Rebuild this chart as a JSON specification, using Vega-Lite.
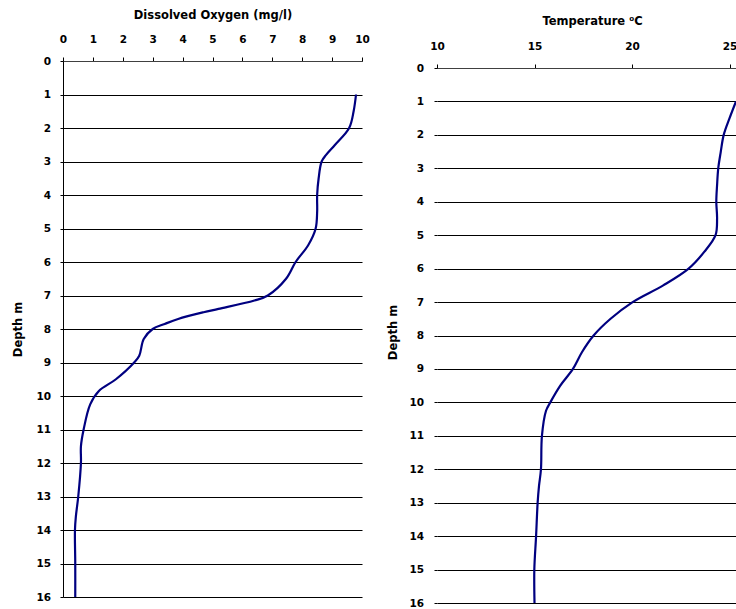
{
  "$schema": "https://vega.github.io/schema/vega-lite/v6.json",
  "padding": {"left": 12, "top": 9, "right": 0, "bottom": 0},
  "background": "white",
  "spacing": 17,
  "config": {
    "view": {"stroke": null},
    "font": "DejaVu Sans",
    "axis": {
      "labelFont": "DejaVu Sans",
      "labelFontWeight": "bold",
      "labelFontSize": 10.5,
      "labelColor": "black",
      "titleFont": "DejaVu Sans",
      "titleFontWeight": "bold",
      "titleFontSize": 11.5,
      "titleColor": "black",
      "tickColor": "black",
      "domainColor": "black",
      "labelOverlap": false
    }
  },
  "datasets": {
    "oxygen": [
      {"depth": 1, "do": 9.8}, {"depth": 1.5, "do": 9.72}, {"depth": 2, "do": 9.57},
      {"depth": 2.5, "do": 9.1}, {"depth": 2.8, "do": 8.8}, {"depth": 3, "do": 8.65},
      {"depth": 3.5, "do": 8.55}, {"depth": 4, "do": 8.5}, {"depth": 4.5, "do": 8.5},
      {"depth": 5, "do": 8.45}, {"depth": 5.5, "do": 8.2}, {"depth": 6, "do": 7.78},
      {"depth": 6.5, "do": 7.46}, {"depth": 7, "do": 6.85}, {"depth": 7.15, "do": 6.4},
      {"depth": 7.4, "do": 5.2}, {"depth": 7.5, "do": 4.7}, {"depth": 7.7, "do": 3.85},
      {"depth": 7.85, "do": 3.4}, {"depth": 8, "do": 3.0}, {"depth": 8.3, "do": 2.7},
      {"depth": 8.8, "do": 2.55}, {"depth": 9, "do": 2.38}, {"depth": 9.5, "do": 1.77},
      {"depth": 9.85, "do": 1.2}, {"depth": 10.25, "do": 0.91}, {"depth": 11, "do": 0.69},
      {"depth": 11.5, "do": 0.6}, {"depth": 12, "do": 0.6}, {"depth": 13, "do": 0.51},
      {"depth": 13.6, "do": 0.43}, {"depth": 14, "do": 0.4}, {"depth": 15, "do": 0.41},
      {"depth": 16, "do": 0.41}
    ],
    "temperature": [
      {"depth": 1, "t": 25.33}, {"depth": 1.5, "t": 25.0}, {"depth": 2, "t": 24.7},
      {"depth": 2.5, "t": 24.55}, {"depth": 3, "t": 24.42}, {"depth": 3.5, "t": 24.36},
      {"depth": 4, "t": 24.32}, {"depth": 4.5, "t": 24.36}, {"depth": 5, "t": 24.28},
      {"depth": 5.5, "t": 23.7}, {"depth": 6, "t": 22.9}, {"depth": 6.5, "t": 21.6},
      {"depth": 7, "t": 20.03}, {"depth": 7.5, "t": 18.9}, {"depth": 8, "t": 18.03},
      {"depth": 8.5, "t": 17.43}, {"depth": 9, "t": 16.97}, {"depth": 9.5, "t": 16.32},
      {"depth": 10, "t": 15.81}, {"depth": 10.25, "t": 15.59}, {"depth": 11, "t": 15.38},
      {"depth": 12, "t": 15.33}, {"depth": 12.5, "t": 15.23}, {"depth": 13, "t": 15.16},
      {"depth": 14, "t": 15.08}, {"depth": 15, "t": 14.99}, {"depth": 16, "t": 15.0}
    ]
  },
  "hconcat": [
    {
      "width": 299,
      "height": 536,
      "layer": [
        {
          "data": {"name": "oxygen"},
          "mark": {"type": "line", "color": "#000080", "strokeWidth": 2.2, "interpolate": "catmull-rom", "clip": true},
          "encoding": {
            "order": {"field": "depth", "type": "quantitative"},
            "x": {
              "field": "do", "type": "quantitative",
              "scale": {"domain": [0, 10], "nice": false, "zero": false},
              "axis": {
                "orient": "top", "title": "Dissolved Oxygen (mg/l)",
                "values": [0, 1, 2, 3, 4, 5, 6, 7, 8, 9, 10],
                "grid": false, "tickSize": 4, "labelPadding": 13, "labelOverlap": false,
                "titlePadding": 14, "domainColor": "#404040", "labelFlush": false
              }
            },
            "y": {
              "field": "depth", "type": "quantitative",
              "scale": {"domain": [0, 16], "reverse": true, "nice": false, "zero": false},
              "axis": {
                "title": "Depth m",
                "values": [0, 1, 2, 3, 4, 5, 6, 7, 8, 9, 10, 11, 12, 13, 14, 15, 16],
                "grid": true, "gridColor": "black", "gridOpacity": 1, "gridWidth": 1,
                "tickSize": 3, "labelPadding": 9.5, "titlePadding": 12, "labelOverlap": false
              }
            }
          }
        },
        {
          "mark": {"type": "rule", "color": "#b8b8b8", "strokeWidth": 2},
          "encoding": {
            "x": {
              "datum": 10, "type": "quantitative",
              "scale": {"domain": [0, 10], "nice": false, "zero": false},
              "axis": {
                "orient": "top", "title": "Dissolved Oxygen (mg/l)",
                "values": [0, 1, 2, 3, 4, 5, 6, 7, 8, 9, 10],
                "grid": false, "tickSize": 4, "labelPadding": 13, "labelOverlap": false,
                "titlePadding": 14, "domainColor": "#404040", "labelFlush": false
              }
            }
          }
        }
      ]
    },
    {
      "width": 299,
      "height": 542,
      "layer": [
        {
          "data": {"name": "temperature"},
          "mark": {"type": "line", "color": "#000080", "strokeWidth": 2.2, "interpolate": "catmull-rom", "clip": true},
          "encoding": {
            "order": {"field": "depth", "type": "quantitative"},
            "x": {
              "field": "t", "type": "quantitative",
              "scale": {"domain": [10, 25.33], "nice": false, "zero": false},
              "axis": {
                "orient": "top", "title": "Temperature ⁰C", "offset": -7,
                "values": [10, 15, 20, 25],
                "grid": false, "tickSize": 4, "labelPadding": 13, "labelOverlap": false,
                "titlePadding": 15, "titleX": 155, "domainColor": "#404040", "labelFlush": false
              }
            },
            "y": {
              "field": "depth", "type": "quantitative",
              "scale": {"domain": [-0.21, 16], "reverse": true, "nice": false, "zero": false},
              "axis": {
                "title": "Depth m", "domain": false,
                "values": [0, 1, 2, 3, 4, 5, 6, 7, 8, 9, 10, 11, 12, 13, 14, 15, 16],
                "grid": true, "gridColor": "black", "gridOpacity": 1, "gridWidth": 1,
                "tickSize": 3, "labelPadding": 10.5, "titlePadding": 10, "labelOverlap": false
              }
            }
          }
        },
        {
          "mark": {"type": "rule", "color": "black", "strokeWidth": 1},
          "encoding": {
            "x": {
              "datum": 10, "type": "quantitative",
              "scale": {"domain": [10, 25.33], "nice": false, "zero": false},
              "axis": {
                "orient": "top", "title": "Temperature ⁰C", "offset": -7,
                "values": [10, 15, 20, 25],
                "grid": false, "tickSize": 4, "labelPadding": 13, "labelOverlap": false,
                "titlePadding": 15, "titleX": 155, "domainColor": "#404040", "labelFlush": false
              }
            },
            "y": {
              "datum": 0, "type": "quantitative",
              "scale": {"domain": [-0.21, 16], "reverse": true, "nice": false, "zero": false},
              "axis": {
                "title": "Depth m", "domain": false,
                "values": [0, 1, 2, 3, 4, 5, 6, 7, 8, 9, 10, 11, 12, 13, 14, 15, 16],
                "grid": true, "gridColor": "black", "gridOpacity": 1, "gridWidth": 1,
                "tickSize": 3, "labelPadding": 10.5, "titlePadding": 10, "labelOverlap": false
              }
            },
            "y2": {"datum": 16}
          }
        }
      ]
    }
  ]
}
